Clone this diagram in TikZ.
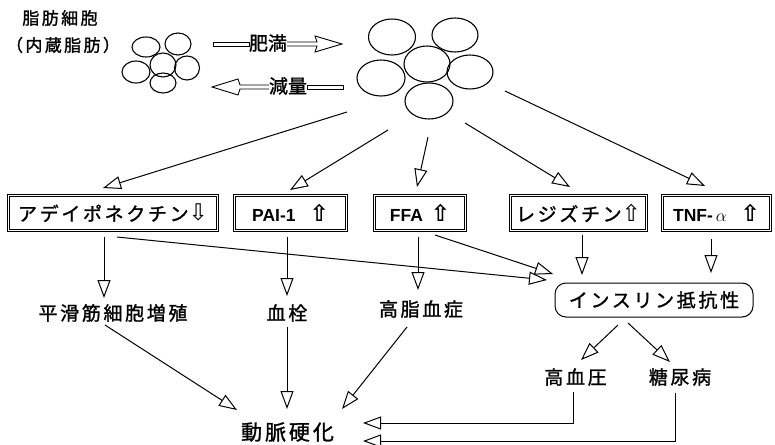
\documentclass[tikz,border=0pt]{standalone}
\usepackage{fontspec}
\newfontfamily\jpf{Noto Sans CJK JP}[FakeBold=1.3]
\newfontfamily\jpls{Noto Sans CJK JP}[FakeBold=1.3,LetterSpace=14]
\newfontfamily\arf{Liberation Sans}
\newfontfamily\djf{DejaVu Sans}
\usetikzlibrary{arrows.meta}
\newcommand{\upar}{{\djf\fontsize{23}{23}\selectfont ⇧}}
\newcommand{\dnar}{{\djf\fontsize{23}{23}\selectfont ⇩}}
\begin{document}
\begin{tikzpicture}[x=1pt,y=-1pt, line width=1pt,
  every node/.style={inner sep=0pt, outer sep=0pt},
  jtxt/.style={font=\jpls\fontsize{19}{19}\selectfont},
  stxt/.style={font=\jpls\fontsize{17}{17}\selectfont},
  ltxt/.style={font=\arf\bfseries\fontsize{17.5}{17.5}\selectfont},
  dbox/.style={draw, line width=0.8pt, double, double distance=1.6pt, minimum height=35pt},
  tri/.style={-{Triangle[open,length=18pt,width=13pt,line width=1pt]}},
  cell/.style={line width=1.1pt},
  blk/.style={line width=0.9pt, line join=miter}]
\useasboundingbox (0,0) rectangle (775,444);
\fill[white] (0,0) rectangle (775,444);

% top labels
\node[stxt] (fat) at (60,18) {脂肪細胞};
\node[stxt] (visc) at (63,45) {（内蔵脂肪）};

% small cluster
\draw[cell] (146,47) ellipse [x radius=14pt, y radius=10pt];
\draw[cell] (178,44) ellipse [x radius=13pt, y radius=11pt];
\draw[cell] (163,65) ellipse [x radius=13pt, y radius=12pt];
\draw[cell] (136,72) ellipse [x radius=14pt, y radius=11pt];
\draw[cell] (187,68) ellipse [x radius=12.5pt, y radius=12pt];
\draw[cell] (163,83) ellipse [x radius=13pt, y radius=10pt];

% big cluster
\draw[cell] (392,37) ellipse [x radius=23.5pt, y radius=18pt];
\draw[cell] (455,35) ellipse [x radius=23pt, y radius=17pt];
\draw[cell] (427,64) ellipse [x radius=23pt, y radius=18pt];
\draw[cell] (381,78) ellipse [x radius=24pt, y radius=18pt];
\draw[cell] (470,72) ellipse [x radius=23pt, y radius=17pt];
\draw[cell] (429,101) ellipse [x radius=24pt, y radius=18pt];

% block arrows
\node[font=\jpf\fontsize{19}{19}\selectfont] (obese) at (268,43) {肥満};
\draw[blk] (213,42) rectangle (obese.west |- 0,46);
\draw[blk] (obese.east |- 0,42) -- (317,42) -- (315,36) -- (342,44) -- (315,52) -- (317,46) -- (obese.east |- 0,46);
\node[font=\jpf\fontsize{19}{19}\selectfont] (loss) at (288,86) {減量};
\draw[blk] (loss.west |- 0,85) -- (240,85) -- (238,79) -- (212,87) -- (238,95) -- (240,89) -- (loss.west |- 0,89);
\draw[blk] (loss.east |- 0,85) rectangle (343,89);

% boxes
\node[dbox, minimum width=209pt, jtxt] (b1) at (113,213) {アデイポネクチン\dnar};
\node[dbox, minimum width=112pt, ltxt] (b2) at (290.5,213) {PAI-1\hspace{14pt}\upar};
\node[dbox, minimum width=91pt, ltxt] (b3) at (420,213) {FFA\hspace{8pt}\upar};
\node[dbox, minimum width=136pt, jtxt] (b4) at (578.5,213) {レジズチン\upar};
\node[dbox, minimum width=108pt, ltxt] (b5) at (716.5,213) {TNF-\,{\fontsize{18}{18}\selectfont$\alpha$}\hspace{14pt}\upar};

% cluster to boxes
\coordinate (s1) at (347,112); \coordinate (t1) at (103,188);
\coordinate (s2) at (388,130); \coordinate (t2) at (290,190);
\coordinate (s3) at (428,137); \coordinate (t3) at (417,187);
\coordinate (s4) at (465,123); \coordinate (t4) at (570,187);
\coordinate (s5) at (505,91);  \coordinate (t5) at (705,186);
\draw[tri] (s1) -- (t1);
\draw[tri] (s2) -- (t2);
\draw[tri] (s3) -- (t3);
\draw[tri] (s4) -- (t4);
\draw[tri] (s5) -- (t5);

% second level
\node[jtxt] (smc) at (113,313) {平滑筋細胞増殖};
\node[jtxt] (thr) at (287,313) {血栓};
\node[jtxt] (hyp) at (421,309) {高脂血症};
\node[draw, rounded corners=11pt, minimum width=198pt, minimum height=34pt, jtxt] (ins) at (654,300) {インスリン抵抗性};
\node[jtxt] (htn) at (575.5,377) {高血圧};
\node[jtxt] (dm) at (680,377) {糖尿病};
\node[font=\jpls\fontsize{21}{21}\selectfont] (ath) at (287.5,432) {動脈硬化};

% box arrows
\draw[tri] (104,237) -- (104,298);
\draw[tri] (117,237) -- (547,280);
\draw[tri] (287,237) -- (287,296);
\draw[tri] (418,237) -- (418,290);
\draw[tri] (435,235) -- (553,274);
\draw[tri] (582,235) -- (582,275);
\draw[tri] (711,239) -- (711,273);

% insulin resistance
\draw[tri] (618,325) -- (581,360);
\draw[tri] (628,323) -- (670,362);
\draw[tri] (573,392) |- (363,423);
\draw[tri] (675,393) |- (363,441);

% to atherosclerosis
\draw[tri] (105,325) -- (237,410);
\draw[tri] (287,327) -- (287,409);
\draw[tri] (407,327) -- (342,409);
\end{tikzpicture}
\end{document}
